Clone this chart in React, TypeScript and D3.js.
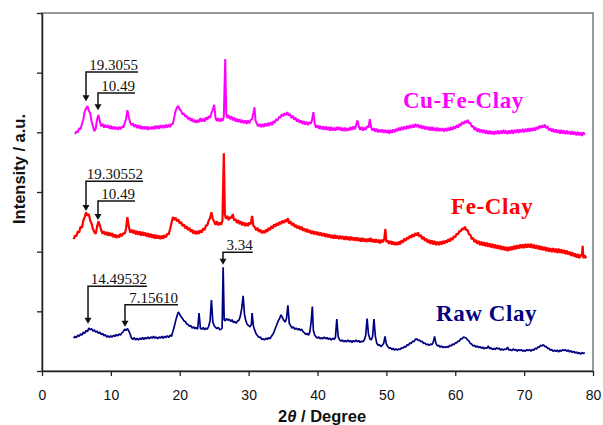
import React, { useEffect, useRef } from 'react';
import * as d3 from 'd3';

// 2θ (degree) vs intensity (a.u., offset per sample)
const rawClay: [number, number][] = [
  [4.6,.55],[4.8,.58],[5.0,.56],[5.2,.60],[5.4,.58],[5.6,.62],[5.8,.60],[6.0,.65],[6.2,.63],[6.4,.68],[6.6,.66],[6.8,.72],[7.0,.69],[7.2,.71],[7.4,.67],[7.6,.69],[7.8,.65],[8.0,.67],[8.2,.63],[8.4,.65],[8.6,.61],[8.8,.63],[9.0,.59],[9.2,.61],[9.4,.57],[9.6,.59],[9.8,.56],[10.0,.59],[10.2,.57],[10.4,.60],[10.6,.58],[10.8,.61],[11.0,.59],[11.2,.62],[11.4,.60],[11.6,.64],[11.8,.66],[12.0,.70],[12.2,.68],[12.4,.71],[12.6,.67],[12.8,.62],[13.0,.55],[13.2,.53],[13.4,.56],[13.6,.52],[13.8,.55],[14.0,.52],[14.2,.55],[14.4,.53],[14.6,.56],[14.8,.53],[15.0,.56],[15.2,.54],[15.4,.57],[15.6,.54],[15.8,.57],[16.0,.55],[16.2,.58],[16.4,.55],[16.6,.57],[16.8,.54],[17.0,.57],[17.2,.55],[17.4,.58],[17.6,.55],[17.8,.58],[18.0,.56],[18.2,.59],[18.4,.56],[18.6,.60],[18.8,.58],[19.0,.66],[19.2,.74],[19.4,.84],[19.6,.92],[19.8,.99],[20.0,.95],[20.2,.91],[20.4,.88],[20.6,.84],[20.8,.83],[21.0,.79],[21.2,.78],[21.4,.75],[21.6,.76],[21.8,.72],[22.0,.74],[22.2,.71],[22.4,.73],[22.6,.70],[22.8,.97],[23.0,.72],[23.2,.70],[23.4,.73],[23.6,.69],[23.8,.72],[24.0,.70],[24.2,.75],[24.4,.84],[24.6,1.19],[24.8,.82],[25.0,.76],[25.2,.73],[25.4,.71],[25.6,.73],[25.8,.69],[26.0,.70],[26.15,.72],[26.3,1.74],[26.45,.86],[26.6,.84],[26.8,.88],[27.0,.85],[27.2,.87],[27.4,.83],[27.6,.86],[27.8,.81],[28.0,.83],[28.2,.80],[28.4,.84],[28.6,.85],[28.8,.92],[29.0,1.05],[29.2,1.26],[29.4,.95],[29.6,.84],[29.8,.78],[30.0,.76],[30.2,.74],[30.4,.78],[30.5,.97],[30.7,.75],[30.9,.68],[31.1,.62],[31.3,.59],[31.5,.56],[31.7,.57],[31.9,.53],[32.1,.54],[32.3,.52],[32.5,.55],[32.7,.53],[32.9,.56],[33.1,.54],[33.3,.58],[33.5,.61],[33.7,.66],[33.9,.72],[34.1,.78],[34.3,.84],[34.5,.88],[34.7,.94],[34.9,.90],[35.1,.85],[35.3,.82],[35.5,.88],[35.7,1.10],[35.9,.80],[36.1,.76],[36.3,.72],[36.5,.74],[36.7,.70],[36.9,.72],[37.1,.69],[37.3,.71],[37.5,.68],[37.7,.70],[37.9,.66],[38.1,.64],[38.3,.61],[38.5,.63],[38.7,.60],[38.9,.66],[39.1,.85],[39.25,1.08],[39.4,.68],[39.6,.60],[39.8,.57],[40.0,.55],[40.2,.57],[40.4,.54],[40.6,.56],[40.8,.54],[41.0,.57],[41.2,.54],[41.4,.56],[41.6,.53],[41.8,.55],[42.0,.52],[42.2,.55],[42.4,.53],[42.6,.56],[42.8,.87],[43.0,.58],[43.2,.52],[43.4,.50],[43.6,.52],[43.8,.49],[44.0,.51],[44.2,.49],[44.4,.52],[44.6,.49],[44.8,.51],[45.0,.48],[45.2,.51],[45.4,.49],[45.6,.52],[45.8,.49],[46.0,.51],[46.2,.48],[46.4,.50],[46.6,.49],[46.8,.52],[47.0,.60],[47.2,.88],[47.4,.62],[47.6,.54],[47.8,.52],[48.0,.58],[48.2,.87],[48.4,.58],[48.6,.47],[48.8,.43],[49.0,.44],[49.2,.41],[49.4,.43],[49.6,.46],[49.8,.58],[50.0,.45],[50.2,.41],[50.4,.38],[50.6,.39],[50.8,.36],[51.0,.38],[51.2,.35],[51.4,.37],[51.6,.35],[51.8,.37],[52.0,.36],[52.2,.39],[52.4,.38],[52.6,.41],[52.8,.40],[53.0,.44],[53.2,.43],[53.4,.47],[53.6,.46],[53.8,.50],[54.0,.49],[54.2,.53],[54.4,.54],[54.6,.51],[54.8,.52],[55.0,.49],[55.2,.50],[55.4,.46],[55.6,.47],[55.8,.44],[56.0,.45],[56.2,.43],[56.4,.45],[56.6,.44],[56.8,.48],[57.0,.58],[57.2,.46],[57.4,.42],[57.6,.43],[57.8,.40],[58.0,.42],[58.2,.39],[58.4,.41],[58.6,.39],[58.8,.41],[59.0,.40],[59.2,.43],[59.4,.42],[59.6,.45],[59.8,.44],[60.0,.47],[60.2,.47],[60.4,.50],[60.6,.50],[60.8,.54],[61.0,.54],[61.2,.57],[61.4,.56],[61.6,.55],[61.8,.52],[62.0,.50],[62.2,.46],[62.4,.45],[62.6,.42],[62.8,.43],[63.0,.40],[63.2,.42],[63.4,.39],[63.6,.41],[63.8,.38],[64.0,.40],[64.2,.37],[64.4,.39],[64.6,.38],[64.8,.42],[65.0,.37],[65.2,.39],[65.4,.36],[65.6,.38],[65.8,.36],[66.0,.39],[66.2,.37],[66.4,.38],[66.6,.35],[66.8,.37],[67.0,.35],[67.2,.37],[67.4,.36],[67.6,.40],[67.8,.35],[68.0,.36],[68.2,.34],[68.4,.37],[68.6,.35],[68.8,.36],[69.0,.33],[69.2,.36],[69.4,.34],[69.6,.36],[69.8,.33],[70.0,.35],[70.2,.33],[70.4,.36],[70.6,.34],[70.8,.36],[71.0,.33],[71.2,.36],[71.4,.35],[71.6,.38],[71.8,.37],[72.0,.40],[72.2,.40],[72.4,.43],[72.6,.42],[72.8,.44],[73.0,.41],[73.2,.41],[73.4,.38],[73.6,.38],[73.8,.35],[74.0,.36],[74.2,.33],[74.4,.35],[74.6,.33],[74.8,.35],[75.0,.32],[75.2,.35],[75.4,.33],[75.6,.36],[75.8,.34],[76.0,.36],[76.2,.33],[76.4,.35],[76.6,.32],[76.8,.34],[77.0,.31],[77.2,.33],[77.4,.30],[77.6,.32],[77.8,.29],[78.0,.31],[78.2,.28],[78.4,.31],[78.6,.29],[78.8,.31]
];

const feClay: [number, number][] = [
  [4.6,2.21],[4.8,2.27],[5.0,2.26],[5.2,2.34],[5.4,2.32],[5.6,2.42],[5.8,2.40],[6.0,2.52],[6.2,2.58],[6.4,2.66],[6.6,2.60],[6.8,2.63],[7.0,2.52],[7.2,2.47],[7.4,2.38],[7.6,2.33],[7.8,2.30],[8.0,2.42],[8.2,2.51],[8.4,2.44],[8.6,2.36],[8.8,2.30],[9.0,2.34],[9.2,2.28],[9.4,2.33],[9.6,2.27],[9.8,2.32],[10.0,2.26],[10.2,2.31],[10.4,2.24],[10.6,2.29],[10.8,2.23],[11.0,2.28],[11.2,2.24],[11.4,2.30],[11.6,2.26],[11.8,2.31],[12.0,2.30],[12.2,2.38],[12.4,2.58],[12.6,2.42],[12.8,2.32],[13.0,2.37],[13.2,2.31],[13.4,2.36],[13.6,2.29],[13.8,2.35],[14.0,2.28],[14.2,2.34],[14.4,2.27],[14.6,2.33],[14.8,2.27],[15.0,2.32],[15.2,2.25],[15.4,2.31],[15.6,2.24],[15.8,2.30],[16.0,2.23],[16.2,2.29],[16.4,2.22],[16.6,2.28],[16.8,2.22],[17.0,2.27],[17.2,2.21],[17.4,2.27],[17.6,2.22],[17.8,2.28],[18.0,2.24],[18.2,2.30],[18.4,2.29],[18.6,2.38],[18.8,2.48],[19.0,2.58],[19.2,2.53],[19.4,2.57],[19.6,2.51],[19.8,2.54],[20.0,2.47],[20.2,2.50],[20.4,2.43],[20.6,2.46],[20.8,2.39],[21.0,2.43],[21.2,2.36],[21.4,2.40],[21.6,2.33],[21.8,2.37],[22.0,2.30],[22.2,2.35],[22.4,2.29],[22.6,2.35],[22.8,2.30],[23.0,2.36],[23.2,2.32],[23.4,2.39],[23.6,2.36],[23.8,2.44],[24.0,2.44],[24.2,2.52],[24.4,2.56],[24.6,2.66],[24.8,2.55],[25.0,2.50],[25.2,2.45],[25.4,2.51],[25.6,2.44],[25.8,2.49],[26.0,2.45],[26.2,2.52],[26.4,3.65],[26.55,2.62],[26.7,2.55],[26.9,2.60],[27.1,2.53],[27.3,2.58],[27.5,2.56],[27.7,2.63],[27.9,2.52],[28.1,2.55],[28.3,2.48],[28.5,2.53],[28.7,2.46],[28.9,2.51],[29.1,2.44],[29.3,2.49],[29.5,2.43],[29.7,2.48],[29.9,2.43],[30.1,2.49],[30.3,2.46],[30.5,2.60],[30.7,2.43],[30.9,2.41],[31.1,2.36],[31.3,2.40],[31.5,2.33],[31.7,2.37],[31.9,2.31],[32.1,2.35],[32.3,2.31],[32.5,2.37],[32.7,2.33],[32.9,2.40],[33.1,2.36],[33.3,2.43],[33.5,2.39],[33.7,2.46],[33.9,2.42],[34.1,2.48],[34.3,2.44],[34.5,2.50],[34.7,2.46],[34.9,2.52],[35.1,2.48],[35.3,2.53],[35.5,2.50],[35.7,2.56],[35.9,2.47],[36.1,2.51],[36.3,2.44],[36.5,2.48],[36.7,2.41],[36.9,2.45],[37.1,2.39],[37.3,2.43],[37.5,2.37],[37.7,2.42],[37.9,2.35],[38.1,2.39],[38.3,2.33],[38.5,2.38],[38.7,2.32],[38.9,2.36],[39.1,2.30],[39.3,2.35],[39.5,2.29],[39.7,2.34],[39.9,2.28],[40.1,2.33],[40.3,2.27],[40.5,2.32],[40.7,2.26],[40.9,2.31],[41.1,2.25],[41.3,2.30],[41.5,2.24],[41.7,2.29],[41.9,2.23],[42.1,2.28],[42.3,2.22],[42.5,2.28],[42.7,2.22],[42.9,2.27],[43.1,2.21],[43.3,2.27],[43.5,2.21],[43.7,2.26],[43.9,2.20],[44.1,2.26],[44.3,2.20],[44.5,2.25],[44.7,2.19],[44.9,2.25],[45.1,2.19],[45.3,2.24],[45.5,2.18],[45.7,2.24],[45.9,2.18],[46.1,2.23],[46.3,2.17],[46.5,2.23],[46.7,2.17],[46.9,2.22],[47.1,2.16],[47.3,2.22],[47.5,2.17],[47.7,2.23],[47.9,2.16],[48.1,2.21],[48.3,2.15],[48.5,2.21],[48.7,2.15],[48.9,2.20],[49.1,2.14],[49.3,2.20],[49.5,2.16],[49.7,2.22],[49.85,2.38],[50.0,2.16],[50.2,2.19],[50.4,2.13],[50.6,2.18],[50.8,2.12],[51.0,2.17],[51.2,2.11],[51.4,2.16],[51.6,2.11],[51.8,2.17],[52.0,2.12],[52.2,2.19],[52.4,2.15],[52.6,2.22],[52.8,2.18],[53.0,2.24],[53.2,2.21],[53.4,2.27],[53.6,2.23],[53.8,2.29],[54.0,2.25],[54.2,2.31],[54.4,2.27],[54.6,2.32],[54.8,2.25],[55.0,2.28],[55.2,2.21],[55.4,2.25],[55.6,2.18],[55.8,2.22],[56.0,2.15],[56.2,2.20],[56.4,2.13],[56.6,2.19],[56.8,2.12],[57.0,2.18],[57.2,2.11],[57.4,2.17],[57.6,2.11],[57.8,2.17],[58.0,2.12],[58.2,2.18],[58.4,2.13],[58.6,2.19],[58.8,2.15],[59.0,2.21],[59.2,2.17],[59.4,2.23],[59.6,2.20],[59.8,2.26],[60.0,2.24],[60.2,2.30],[60.4,2.29],[60.6,2.35],[60.8,2.34],[61.0,2.39],[61.2,2.37],[61.4,2.42],[61.6,2.36],[61.8,2.36],[62.0,2.29],[62.2,2.28],[62.4,2.21],[62.6,2.23],[62.8,2.16],[63.0,2.20],[63.2,2.13],[63.4,2.18],[63.6,2.11],[63.8,2.17],[64.0,2.10],[64.2,2.16],[64.4,2.09],[64.6,2.15],[64.8,2.08],[65.0,2.14],[65.2,2.07],[65.4,2.13],[65.6,2.06],[65.8,2.12],[66.0,2.05],[66.2,2.11],[66.4,2.04],[66.6,2.10],[66.8,2.03],[67.0,2.09],[67.2,2.02],[67.4,2.08],[67.6,2.01],[67.8,2.08],[68.0,2.02],[68.2,2.09],[68.4,2.03],[68.6,2.10],[68.8,2.04],[69.0,2.11],[69.2,2.05],[69.4,2.12],[69.6,2.06],[69.8,2.12],[70.0,2.06],[70.2,2.13],[70.4,2.07],[70.6,2.13],[70.8,2.07],[71.0,2.13],[71.2,2.06],[71.4,2.12],[71.6,2.05],[71.8,2.11],[72.0,2.04],[72.2,2.10],[72.4,2.03],[72.6,2.09],[72.8,2.02],[73.0,2.08],[73.2,2.01],[73.4,2.07],[73.6,2.00],[73.8,2.06],[74.0,1.99],[74.2,2.06],[74.4,1.99],[74.6,2.05],[74.8,1.98],[75.0,2.05],[75.2,1.98],[75.4,2.04],[75.6,1.97],[75.8,2.03],[76.0,1.96],[76.2,2.02],[76.4,1.95],[76.6,2.00],[76.8,1.93],[77.0,1.99],[77.2,1.92],[77.4,1.97],[77.6,1.90],[77.8,1.96],[78.0,1.89],[78.2,1.95],[78.4,1.93],[78.5,2.10],[78.6,1.89],[78.8,1.94],[79.0,1.89]
];

const cuFeClay: [number, number][] = [
  [4.8,3.97],[5.0,4.02],[5.2,4.00],[5.4,4.07],[5.6,4.05],[5.8,4.14],[6.0,4.22],[6.2,4.35],[6.4,4.40],[6.6,4.44],[6.8,4.36],[7.0,4.32],[7.2,4.18],[7.4,4.10],[7.6,4.02],[7.8,4.06],[8.0,4.22],[8.2,4.29],[8.4,4.18],[8.6,4.10],[8.8,4.14],[9.0,4.08],[9.2,4.13],[9.4,4.08],[9.6,4.12],[9.8,4.06],[10.0,4.11],[10.2,4.05],[10.4,4.10],[10.6,4.05],[10.8,4.09],[11.0,4.04],[11.2,4.09],[11.4,4.05],[11.6,4.10],[11.8,4.08],[12.0,4.15],[12.2,4.22],[12.4,4.37],[12.6,4.26],[12.8,4.16],[13.0,4.12],[13.2,4.15],[13.4,4.09],[13.6,4.13],[13.8,4.07],[14.0,4.12],[14.2,4.06],[14.4,4.11],[14.6,4.05],[14.8,4.10],[15.0,4.05],[15.2,4.10],[15.4,4.04],[15.6,4.09],[15.8,4.05],[16.0,4.10],[16.2,4.05],[16.4,4.11],[16.6,4.06],[16.8,4.11],[17.0,4.06],[17.2,4.12],[17.4,4.07],[17.6,4.12],[17.8,4.07],[18.0,4.13],[18.2,4.08],[18.4,4.13],[18.6,4.09],[18.8,4.14],[19.0,4.14],[19.2,4.25],[19.4,4.36],[19.6,4.42],[19.8,4.44],[20.0,4.38],[20.2,4.36],[20.4,4.30],[20.6,4.32],[20.8,4.26],[21.0,4.28],[21.2,4.22],[21.4,4.25],[21.6,4.19],[21.8,4.23],[22.0,4.17],[22.2,4.21],[22.4,4.16],[22.6,4.21],[22.8,4.17],[23.0,4.24],[23.2,4.18],[23.4,4.23],[23.6,4.18],[23.8,4.25],[24.0,4.21],[24.2,4.27],[24.4,4.24],[24.6,4.32],[24.8,4.38],[25.0,4.46],[25.2,4.24],[25.4,4.19],[25.6,4.24],[25.8,4.18],[26.0,4.23],[26.2,4.19],[26.4,4.26],[26.6,5.23],[26.75,4.32],[26.9,4.24],[27.1,4.29],[27.3,4.22],[27.5,4.27],[27.7,4.20],[27.9,4.25],[28.1,4.18],[28.3,4.23],[28.5,4.17],[28.7,4.22],[28.9,4.16],[29.1,4.21],[29.3,4.15],[29.5,4.20],[29.7,4.14],[29.9,4.20],[30.1,4.15],[30.3,4.21],[30.5,4.22],[30.7,4.33],[30.85,4.42],[31.0,4.20],[31.2,4.14],[31.4,4.10],[31.6,4.14],[31.8,4.09],[32.0,4.14],[32.2,4.09],[32.4,4.15],[32.6,4.10],[32.8,4.16],[33.0,4.11],[33.2,4.17],[33.4,4.12],[33.6,4.19],[33.8,4.16],[34.0,4.22],[34.2,4.20],[34.4,4.26],[34.6,4.24],[34.8,4.30],[35.0,4.27],[35.2,4.32],[35.4,4.29],[35.6,4.34],[35.8,4.28],[36.0,4.31],[36.2,4.24],[36.4,4.28],[36.6,4.21],[36.8,4.25],[37.0,4.18],[37.2,4.22],[37.4,4.16],[37.6,4.20],[37.8,4.14],[38.0,4.19],[38.2,4.13],[38.4,4.18],[38.6,4.12],[38.8,4.17],[39.0,4.14],[39.2,4.20],[39.4,4.34],[39.6,4.14],[39.8,4.08],[40.0,4.12],[40.2,4.06],[40.4,4.11],[40.6,4.05],[40.8,4.10],[41.0,4.04],[41.2,4.10],[41.4,4.04],[41.6,4.09],[41.8,4.03],[42.0,4.09],[42.2,4.03],[42.4,4.08],[42.6,4.03],[42.8,4.09],[43.0,4.04],[43.2,4.09],[43.4,4.03],[43.6,4.08],[43.8,4.02],[44.0,4.08],[44.2,4.02],[44.4,4.07],[44.6,4.03],[44.8,4.09],[45.0,4.04],[45.2,4.10],[45.4,4.05],[45.6,4.12],[45.8,4.20],[46.0,4.10],[46.2,4.04],[46.4,4.09],[46.6,4.03],[46.8,4.08],[47.0,4.04],[47.2,4.10],[47.4,4.08],[47.6,4.22],[47.8,4.08],[48.0,4.03],[48.2,4.07],[48.4,4.01],[48.6,4.06],[48.8,4.00],[49.0,4.05],[49.2,4.00],[49.4,4.05],[49.6,3.99],[49.8,4.04],[50.0,3.99],[50.2,4.04],[50.4,3.98],[50.6,4.04],[50.8,3.99],[51.0,4.05],[51.2,4.00],[51.4,4.06],[51.6,4.02],[51.8,4.08],[52.0,4.03],[52.2,4.09],[52.4,4.04],[52.6,4.10],[52.8,4.05],[53.0,4.11],[53.2,4.06],[53.4,4.12],[53.6,4.07],[53.8,4.13],[54.0,4.08],[54.2,4.14],[54.4,4.09],[54.6,4.13],[54.8,4.07],[55.0,4.12],[55.2,4.06],[55.4,4.11],[55.6,4.05],[55.8,4.10],[56.0,4.04],[56.2,4.09],[56.4,4.03],[56.6,4.09],[56.8,4.03],[57.0,4.08],[57.2,4.02],[57.4,4.08],[57.6,4.02],[57.8,4.07],[58.0,4.02],[58.2,4.07],[58.4,4.01],[58.6,4.07],[58.8,4.02],[59.0,4.08],[59.2,4.03],[59.4,4.09],[59.6,4.04],[59.8,4.10],[60.0,4.06],[60.2,4.12],[60.4,4.08],[60.6,4.14],[60.8,4.11],[61.0,4.17],[61.2,4.14],[61.4,4.19],[61.6,4.16],[61.8,4.21],[62.0,4.15],[62.2,4.16],[62.4,4.09],[62.6,4.11],[62.8,4.04],[63.0,4.08],[63.2,4.01],[63.4,4.06],[63.6,4.00],[63.8,4.05],[64.0,3.99],[64.2,4.04],[64.4,3.98],[64.6,4.03],[64.8,3.97],[65.0,4.03],[65.2,3.97],[65.4,4.02],[65.6,3.96],[65.8,4.02],[66.0,3.97],[66.2,4.03],[66.4,3.97],[66.6,4.03],[66.8,3.98],[67.0,4.04],[67.2,3.98],[67.4,4.03],[67.6,3.97],[67.8,4.03],[68.0,3.98],[68.2,4.04],[68.4,3.98],[68.6,4.04],[68.8,3.99],[69.0,4.05],[69.2,3.99],[69.4,4.05],[69.6,4.00],[69.8,4.06],[70.0,4.00],[70.2,4.06],[70.4,4.01],[70.6,4.07],[70.8,4.01],[71.0,4.07],[71.2,4.02],[71.4,4.08],[71.6,4.03],[71.8,4.09],[72.0,4.05],[72.2,4.11],[72.4,4.07],[72.6,4.12],[72.8,4.08],[73.0,4.13],[73.2,4.07],[73.4,4.10],[73.6,4.03],[73.8,4.07],[74.0,4.01],[74.2,4.06],[74.4,4.00],[74.6,4.05],[74.8,3.99],[75.0,4.04],[75.2,3.98],[75.4,4.04],[75.6,3.98],[75.8,4.03],[76.0,3.97],[76.2,4.03],[76.4,3.97],[76.6,4.02],[76.8,3.96],[77.0,4.02],[77.2,3.96],[77.4,4.01],[77.6,3.95],[77.8,4.01],[78.0,3.95],[78.2,4.00],[78.4,3.94],[78.6,4.00],[78.8,3.96]
];

const xTicks = [0, 10, 20, 30, 40, 50, 60, 70, 80];
const yTicks = [0, 1, 2, 3, 4, 5, 6];

// sample name, colour, label anchor (2θ, a.u.)
const seriesNames = ['Cu-Fe-Clay', 'Fe-Clay', 'Raw Clay'];
const seriesColors = ['#ff00ff', '#ff0000', '#000080'];
const labelAt: [number, number][] = [[52.4, 4.41], [59.4, 2.63], [57.2, 0.84]];

// peak callouts: text, peak 2θ, arrow tip, bar level, bar end 2θ
const peakLabels = ['19.3055', '10.49', '19.30552', '10.49', '3.34', '14.49532', '7.15610'];
const peakX = [6.39, 8.13, 6.39, 8.13, 26.28, 6.68, 12.05];
const peakTip = [4.52, 4.37, 2.68, 2.53, 1.78, 0.79, 0.74];
const peakBar = [5.01, 4.66, 3.18, 2.85, 1.99, 1.42, 1.11];
const peakEnd = [13.94, 13.5, 14.66, 13.5, 30.6, 15.24, 19.75];

const W = 603;
const H = 425;

const App: React.FC = () => {
  const svgRef = useRef<SVGSVGElement>(null);

  useEffect(() => {
    if (!svgRef.current) return;
    const margin = { top: 13, right: 10, bottom: 54, left: 42 };
    const width = W - margin.left - margin.right;
    const height = H - margin.top - margin.bottom;

    const svg = d3.select(svgRef.current);
    svg.selectAll('*').remove();
    svg.append('rect').attr('width', W).attr('height', H).attr('fill', '#fff');

    const g = svg.append('g').attr('transform', `translate(${margin.left},${margin.top})`);

    const x = d3.scaleLinear().domain([0, 80]).range([0, width]);
    const y = d3.scaleLinear().domain([0, 6]).range([height, 0]);

    // frame
    g.append('rect')
      .attr('width', width).attr('height', height)
      .attr('fill', 'none').attr('stroke', '#777').attr('stroke-width', 1.5);

    const xAxis = g.append('g')
      .attr('transform', `translate(0,${height})`)
      .call(d3.axisBottom(x).tickValues(xTicks).tickSize(5).tickPadding(14).tickSizeOuter(0));
    xAxis.select('.domain').attr('stroke', '#222').attr('stroke-width', 1.5);
    xAxis.selectAll('line').attr('stroke', '#222').attr('stroke-width', 1.3);
    xAxis.selectAll('text')
      .attr('fill', '#111')
      .style('font-family', '"Liberation Sans", Arial, sans-serif')
      .style('font-size', '14px');

    const yAxis = g.append('g')
      .call(d3.axisLeft(y).tickValues(yTicks).tickSize(5).tickFormat(() => '').tickSizeOuter(0));
    yAxis.select('.domain').attr('stroke', '#222').attr('stroke-width', 1.5);
    yAxis.selectAll('line').attr('stroke', '#222').attr('stroke-width', 1.3);

    const line = d3.line<[number, number]>().x(d => x(d[0])).y(d => y(d[1]));
    const widths = [2, 2.2, 1.7];

    [cuFeClay, feClay, rawClay].forEach((data, i) => {
      g.append('path')
        .datum(data)
        .attr('fill', 'none')
        .attr('stroke', seriesColors[i])
        .attr('stroke-width', widths[i])
        .attr('stroke-linejoin', 'bevel')
        .attr('d', line);

      g.append('text')
        .attr('x', x(labelAt[i][0]))
        .attr('y', y(labelAt[i][1]))
        .attr('fill', seriesColors[i])
        .style('font-family', '"Liberation Serif", "Times New Roman", serif')
        .style('font-weight', 'bold')
        .style('font-size', '23px')
        .style('letter-spacing', '0.6px')
        .text(seriesNames[i]);
    });

    // peak callouts
    peakLabels.forEach((lab, i) => {
      const px = x(peakX[i]);
      const tip = y(peakTip[i]);
      const bar = y(peakBar[i]);
      const end = x(peakEnd[i]);
      g.append('path')
        .attr('d', `M${end},${bar}H${px}V${tip - 5}`)
        .attr('fill', 'none')
        .attr('stroke', '#111')
        .attr('stroke-width', 1.5);
      g.append('path')
        .attr('d', `M${px - 3.5},${tip - 6}L${px + 3.5},${tip - 6}L${px},${tip}Z`)
        .attr('fill', '#111');
      g.append('text')
        .attr('x', end)
        .attr('y', bar - 2)
        .attr('text-anchor', 'end')
        .attr('fill', '#111')
        .style('font-family', '"Liberation Serif", "Times New Roman", serif')
        .style('font-size', '15px')
        .text(lab);
    });

    // axis titles
    const xt = svg.append('text')
      .attr('x', 278)
      .attr('y', 422)
      .attr('fill', '#111')
      .style('font-family', '"Liberation Sans", Arial, sans-serif')
      .style('font-weight', 'bold')
      .style('font-size', '16.5px');
    xt.append('tspan').text('2');
    xt.append('tspan').style('font-style', 'italic').text('θ');
    xt.append('tspan').text(' / Degree');

    svg.append('text')
      .attr('transform', 'translate(25,169) rotate(-90)')
      .attr('text-anchor', 'middle')
      .attr('fill', '#111')
      .style('font-family', '"Liberation Sans", Arial, sans-serif')
      .style('font-weight', 'bold')
      .style('font-size', '16.5px')
      .text('Intensity / a.u.');
  }, []);

  return (
    <div>
      <svg
        ref={svgRef}
        width={W}
        height={H}
        viewBox={`0 0 ${W} ${H}`}
        style={{ position: 'absolute', left: 0, top: 0, display: 'block' }}
      />
    </div>
  );
};

export default App;
